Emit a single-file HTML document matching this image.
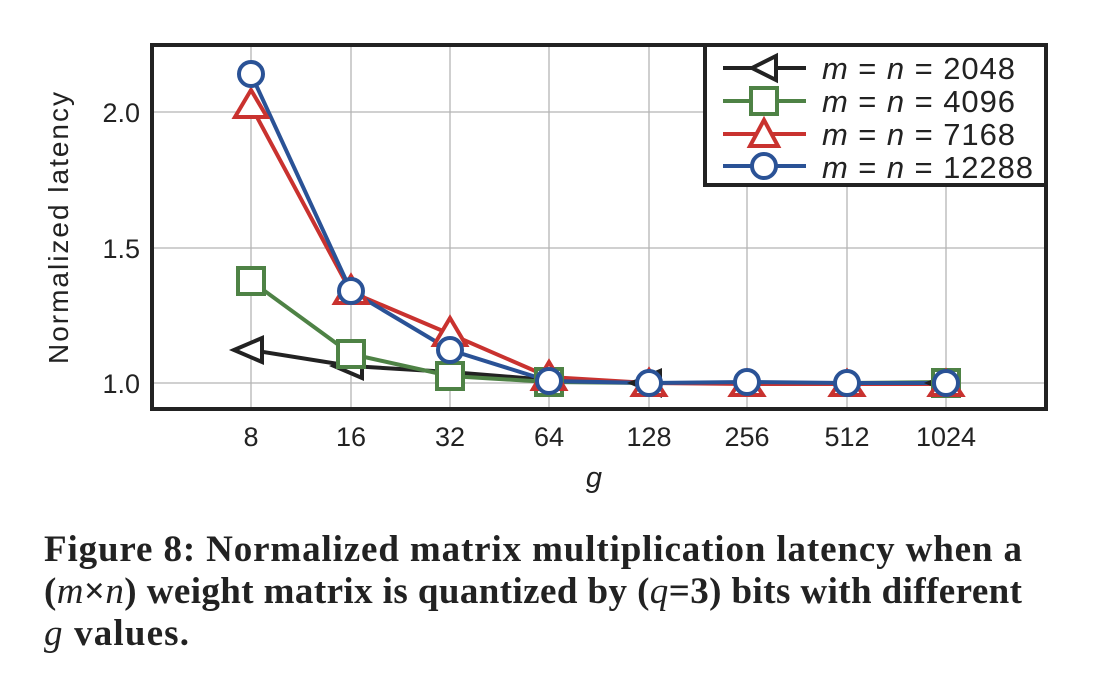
<!DOCTYPE html>
<html><head><style>
body{margin:0;background:#fff;width:1104px;height:692px;overflow:hidden}
</style></head><body>
<svg width="1104" height="692" style="position:absolute;left:0;top:0" font-family="Liberation Sans, sans-serif">
<g stroke="#b5b5b5" stroke-width="1.3">
<line x1="251" y1="45" x2="251" y2="409"/><line x1="351" y1="45" x2="351" y2="409"/><line x1="450" y1="45" x2="450" y2="409"/><line x1="549" y1="45" x2="549" y2="409"/><line x1="649" y1="45" x2="649" y2="409"/><line x1="747" y1="45" x2="747" y2="409"/><line x1="847" y1="45" x2="847" y2="409"/><line x1="946" y1="45" x2="946" y2="409"/>
<line x1="152" y1="112" x2="1046" y2="112"/><line x1="152" y1="248" x2="1046" y2="248"/><line x1="152" y1="383" x2="1046" y2="383"/>
</g>
<g fill="none" stroke-width="4" stroke-linejoin="round">
<polyline stroke="#222" points="251,350 351,366 450,372 549,380 649,383 747,383 847,383 946,383"/>
<polyline stroke="#4e8245" points="251,281 351,354 450,376 549,382 649,383 747,383 847,383 946,382"/>
<polyline stroke="#c9322f" points="251,106 351,292 450,334 549,377 649,383 747,384 847,384 946,384"/>
<polyline stroke="#2a5296" points="251,74 351,291 450,350 549,381 649,383 747,382 847,383 946,383"/>
</g>
<g fill="#fff" stroke-width="4">
<g stroke="#222"><path d="M234,350 L262,338 L262,362Z"/><path d="M334,366 L362,354 L362,378Z"/><path d="M632,383 L660,371 L660,395Z"/><path d="M929,383 L957,371 L957,395Z"/></g>
<g stroke="#4e8245"><rect x="238" y="268" width="26" height="26"/><rect x="338" y="341" width="26" height="26"/><rect x="437" y="363" width="26" height="26"/><rect x="536" y="369" width="26" height="26"/><rect x="933" y="370" width="26" height="26"/></g>
<g stroke="#c9322f"><path d="M251,90 L267,117 L235,117Z"/><path d="M351,276 L367,303 L335,303Z"/><path d="M450,318 L466,345 L434,345Z"/><path d="M549,362 L565,389 L533,389Z"/><path d="M649,370 L665,395 L633,395Z"/><path d="M747,371 L763,395 L731,395Z"/><path d="M847,371 L863,395 L831,395Z"/><path d="M946,371 L962,395 L930,395Z"/></g>
<g stroke="#2a5296"><circle cx="251" cy="74" r="12"/><circle cx="351" cy="291" r="12"/><circle cx="450" cy="350" r="12"/><circle cx="549" cy="381" r="12"/><circle cx="649" cy="383" r="12"/><circle cx="747" cy="382" r="12"/><circle cx="847" cy="383" r="12"/><circle cx="946" cy="383" r="12"/></g>
</g>
<rect x="152" y="45" width="894" height="364" fill="none" stroke="#222" stroke-width="4"/>
<rect x="705" y="45" width="341" height="140" fill="#fff" stroke="#222" stroke-width="4"/>
<g stroke-width="4" fill="#fff">
<line x1="723" y1="68" x2="806" y2="68" stroke="#222"/><path d="M752,68 L776,56 L776,80Z" stroke="#222"/>
<line x1="723" y1="101" x2="806" y2="101" stroke="#4e8245"/><rect x="751" y="88" width="26" height="26" stroke="#4e8245"/>
<line x1="723" y1="134" x2="806" y2="134" stroke="#c9322f"/><path d="M764,120 L778,146 L750,146Z" stroke="#c9322f"/>
<line x1="723" y1="166" x2="806" y2="166" stroke="#2a5296"/><circle cx="764" cy="166" r="12" stroke="#2a5296"/>
</g>
<g font-size="31" fill="#222">
<text x="822" y="79" textLength="193" lengthAdjust="spacing"><tspan font-style="italic">m</tspan> = <tspan font-style="italic">n</tspan> = 2048</text>
<text x="822" y="112" textLength="193" lengthAdjust="spacing"><tspan font-style="italic">m</tspan> = <tspan font-style="italic">n</tspan> = 4096</text>
<text x="822" y="145" textLength="193" lengthAdjust="spacing"><tspan font-style="italic">m</tspan> = <tspan font-style="italic">n</tspan> = 7168</text>
<text x="822" y="178" textLength="211" lengthAdjust="spacing"><tspan font-style="italic">m</tspan> = <tspan font-style="italic">n</tspan> = 12288</text>
</g>
<g font-size="27" fill="#222" text-anchor="end">
<text x="140" y="122">2.0</text><text x="140" y="258">1.5</text><text x="140" y="393">1.0</text>
</g>
<g font-size="27" fill="#222" text-anchor="middle">
<text x="251" y="446">8</text><text x="351" y="446">16</text><text x="450" y="446">32</text><text x="549" y="446">64</text><text x="649" y="446">128</text><text x="747" y="446">256</text><text x="847" y="446">512</text><text x="946" y="446">1024</text>
<text x="594" y="487" font-style="italic" font-size="29">g</text>
<text transform="translate(68,228) rotate(-90)" font-size="28" textLength="272" lengthAdjust="spacing">Normalized latency</text>
</g>
<g font-family="Liberation Serif, serif" font-weight="bold" font-size="37" fill="#222">
<text x="44" y="561" textLength="978" lengthAdjust="spacing">Figure 8: Normalized matrix multiplication latency when a</text>
<text x="44" y="603" textLength="978" lengthAdjust="spacing">(<tspan font-style="italic" font-weight="normal">m</tspan>×<tspan font-style="italic" font-weight="normal">n</tspan>) weight matrix is quantized by (<tspan font-style="italic" font-weight="normal">q</tspan>=3) bits with different</text>
<text x="44" y="645" textLength="145" lengthAdjust="spacing"><tspan font-style="italic" font-weight="normal">g</tspan> values.</text>
</g>
</svg>
</body></html>
